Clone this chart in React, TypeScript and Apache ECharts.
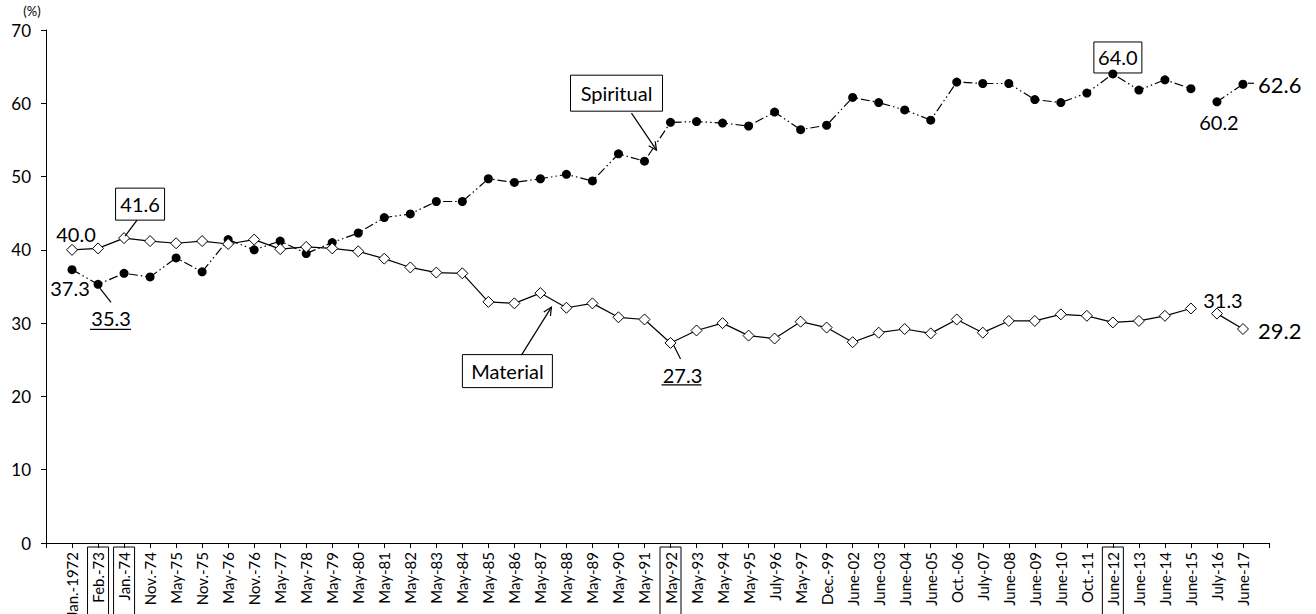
import React, { useEffect, useRef } from "react";
import * as echarts from "echarts";

const categories = ["Jan.-1972","Feb.-73","Jan.-74","Nov.-74","May-75","Nov.-75","May-76","Nov.-76","May-77","May-78","May-79","May-80","May-81","May-82","May-83","May-84","May-85","May-86","May-87","May-88","May-89","May-90","May-91","May-92","May-93","May-94","May-95","July-96","May-97","Dec.-99","June-02","June-03","June-04","June-05","Oct.-06","July-07","June-08","June-09","June-10","Oct.-11","June-12","June-13","June-14","June-15","July-16","June-17"];

const boxedCategories = ["Feb.-73", "Jan.-74", "May-92", "June-12"];

const spiritual = [37.3,35.3,36.8,36.3,38.9,37.0,41.4,40.0,41.2,39.5,41.0,42.3,44.4,44.9,46.6,46.6,49.7,49.2,49.7,50.3,49.4,53.1,52.1,57.4,57.5,57.3,56.9,58.8,56.4,57.0,60.8,60.1,59.1,57.7,62.9,62.7,62.7,60.5,60.1,61.4,64.0,61.8,63.2,62.0,60.2,62.6];

const material = [40.0,40.2,41.6,41.2,40.9,41.2,40.8,41.4,40.1,40.4,40.2,39.8,38.8,37.6,36.9,36.8,32.9,32.7,34.1,32.1,32.7,30.8,30.5,27.3,29.0,30.0,28.3,27.9,30.2,29.4,27.4,28.7,29.2,28.6,30.5,28.7,30.3,30.3,31.2,31.0,30.1,30.3,31.0,32.0,31.3,29.2];

// index where the survey break occurs (no line between June-15 and July-16)
const breakIndex = 44;

const yTicks = { min: 0, max: 70, interval: 10 };

const FONT = "Lato, 'Noto Sans', sans-serif";

export default function App() {
  const ref = useRef<HTMLDivElement>(null);

  useEffect(() => {
    const chart = echarts.init(ref.current!, null, { renderer: "svg" });
    const xData = ["", ...categories, ""];
    const boxed = new Set(boxedCategories);
    const seg = (arr: number[], from: number, to: number) =>
      arr.slice(from, to).map((v, i) => [from + i + 1, v]);

    const labelRichBase = {
      padding: [3, 5, 3, 40],
      fontSize: 15,
      fontFamily: FONT,
      color: "#000",
      lineHeight: 18,
    };

    const spiritStyle = {
      type: "line",
      symbol: "circle",
      symbolSize: 9,
      itemStyle: { color: "#000", borderColor: "#000", borderWidth: 0 },
      lineStyle: { color: "#000", width: 1.2, type: [9, 3, 1.5, 3, 1.5, 3] },
      z: 2,
    };
    const matStyle = {
      type: "line",
      symbol: "diamond",
      symbolSize: [11, 11],
      itemStyle: { color: "#fff", borderColor: "#000", borderWidth: 1 },
      lineStyle: { color: "#000", width: 1.2, type: "solid" },
      z: 3,
    };

    chart.setOption({
      animation: false,
      backgroundColor: "#fff",
      grid: {
        left: 46,
        right: 47,
        top: 30,
        bottom: 71,
        containLabel: false,
        outerBoundsMode: "none",
      },
      xAxis: {
        type: "category",
        data: xData,
        boundaryGap: false,
        axisLine: { lineStyle: { color: "#000", width: 1 } },
        axisTick: { show: true, length: 5, interval: 0, lineStyle: { color: "#000" } },
        splitLine: { show: false },
        axisLabel: {
          interval: 0,
          rotate: 90,
          margin: 4,
          color: "#000",
          fontFamily: FONT,
          fontSize: 15,
          formatter: (v: string) => (v ? (boxed.has(v) ? `{b|${v}}` : `{n|${v}}`) : ""),
          rich: {
            b: { ...labelRichBase, borderColor: "#000", borderWidth: 1 },
            n: { ...labelRichBase },
          },
        },
      },
      yAxis: {
        type: "value",
        min: yTicks.min,
        max: yTicks.max,
        interval: yTicks.interval,
        axisLine: { show: true, lineStyle: { color: "#000", width: 1 } },
        axisTick: { show: true, length: 5, lineStyle: { color: "#000" } },
        splitLine: { show: false },
        axisLabel: { color: "#000", fontSize: 17, fontFamily: FONT, margin: 15 },
      },
      series: [
        { ...spiritStyle, name: "Spiritual", data: seg(spiritual, 0, breakIndex) },
        { ...spiritStyle, name: "Spiritual ", data: seg(spiritual, breakIndex, spiritual.length) },
        { ...matStyle, name: "Material", data: seg(material, 0, breakIndex) },
        { ...matStyle, name: "Material ", data: seg(material, breakIndex, material.length) },
      ],
    });

    const px = (i: number, v: number) => chart.convertToPixel({ gridIndex: 0 }, [i + 1, v]) as number[];

    const txt = (text: string, x: number, y: number, size: number, align = "center") => ({
      type: "text",
      x,
      y,
      z: 20,
      style: {
        text,
        fill: "#000",
        fontSize: size,
        fontFamily: FONT,
        align,
        verticalAlign: "middle",
        textAlign: align,
        textVerticalAlign: "middle",
      },
    });
    const line = (x1: number, y1: number, x2: number, y2: number, w = 1.2) => ({
      type: "line",
      z: 20,
      shape: { x1, y1, x2, y2 },
      style: { stroke: "#000", lineWidth: w },
    });
    const box = (cx: number, cy: number, w: number, h: number, fill = "#fff") => ({
      type: "rect",
      z: 19,
      shape: { x: cx - w / 2, y: cy - h / 2, width: w, height: h },
      style: { fill, stroke: "#000", lineWidth: 1 },
    });
    const arrow = (x1: number, y1: number, x2: number, y2: number) => {
      const ang = Math.atan2(y2 - y1, x2 - x1);
      const L = 9;
      const a = 0.45;
      const h1 = [x2 - L * Math.cos(ang - a), y2 - L * Math.sin(ang - a)];
      const h2 = [x2 - L * Math.cos(ang + a), y2 - L * Math.sin(ang + a)];
      return [
        line(x1, y1, x2, y2),
        {
          type: "polyline",
          z: 20,
          shape: { points: [h1, [x2, y2], h2] },
          style: { stroke: "#000", lineWidth: 1.2, fill: null },
        },
      ];
    };

    const m0 = px(0, material[0]);
    const m2 = px(2, material[2]);
    const s0 = px(0, spiritual[0]);
    const s1 = px(1, spiritual[1]);
    const m23 = px(23, material[23]);
    const m18 = px(18, material[18]);
    const s22 = px(22, spiritual[22]);
    const s40 = px(40, spiritual[40]);
    const s44 = px(44, spiritual[44]);
    const s45 = px(45, spiritual[45]);
    const m44 = px(44, material[44]);
    const m45 = px(45, material[45]);

    const graphics: any[] = [
      txt("(%)", 32, 11, 13),
      // 40.0
      txt(material[0].toFixed(1), m0[0] + 4, m0[1] - 16, 20),
      // 41.6 boxed
      box(m2[0] + 16, m2[1] - 34, 49, 32),
      txt(material[2].toFixed(1), m2[0] + 16, m2[1] - 34, 20),
      line(m2[0] + 13, m2[1] - 18, m2[0] + 1, m2[1] - 2),
      // 37.3
      txt(spiritual[0].toFixed(1), s0[0] - 2, s0[1] + 18, 20),
      // 35.3 underlined
      txt(spiritual[1].toFixed(1), s1[0] + 13, s1[1] + 34, 20),
      line(s1[0] - 8, s1[1] + 45, s1[0] + 33, s1[1] + 45),
      line(s1[0] + 2, s1[1] + 4, s1[0] + 13, s1[1] + 18),
      // 27.3 underlined
      txt(material[23].toFixed(1), m23[0] + 12, m23[1] + 32, 20),
      line(m23[0] - 9, m23[1] + 42, m23[0] + 31, m23[1] + 42),
      line(m23[0] + 3, m23[1] + 2, m23[0] + 10, m23[1] + 16),
      // Material label
      box(m18[0] - 33, m18[1] + 78, 90, 33),
      txt("Material", m18[0] - 33, m18[1] + 78, 20),
      ...arrow(m18[0] - 19, m18[1] + 62, m18[0] + 11, m18[1] + 14),
      // Spiritual label
      box(s22[0] - 28, s22[1] - 68, 92, 36),
      txt("Spiritual", s22[0] - 28, s22[1] - 68, 20),
      ...arrow(s22[0] - 13, s22[1] - 48, s22[0] + 12, s22[1] - 11),
      // 64.0 boxed
      box(s40[0] + 5, s40[1] - 16.5, 48, 31, "rgba(255,255,255,0)"),
      txt(spiritual[40].toFixed(1), s40[0] + 5, s40[1] - 16.5, 20),
      // 60.2
      txt(spiritual[44].toFixed(1), s44[0] + 2, s44[1] + 20, 20),
      // 62.6
      line(s45[0] + 5, s45[1] - 1, s45[0] + 11, s45[1] - 1),
      txt(spiritual[45].toFixed(1), s45[0] + 15, s45[1], 22, "left"),
      // 31.3
      txt(material[44].toFixed(1), m44[0] + 6, m44[1] - 14, 20),
      // 29.2
      txt(material[45].toFixed(1), m45[0] + 15, m45[1] + 1, 22, "left"),
    ];

    chart.setOption({ graphic: { elements: graphics } });

    return () => chart.dispose();
  }, []);

  return (
    <div
      ref={ref}
      style={{ position: "absolute", left: 0, top: 0, width: 1316, height: 614, background: "#fff" }}
    />
  );
}
